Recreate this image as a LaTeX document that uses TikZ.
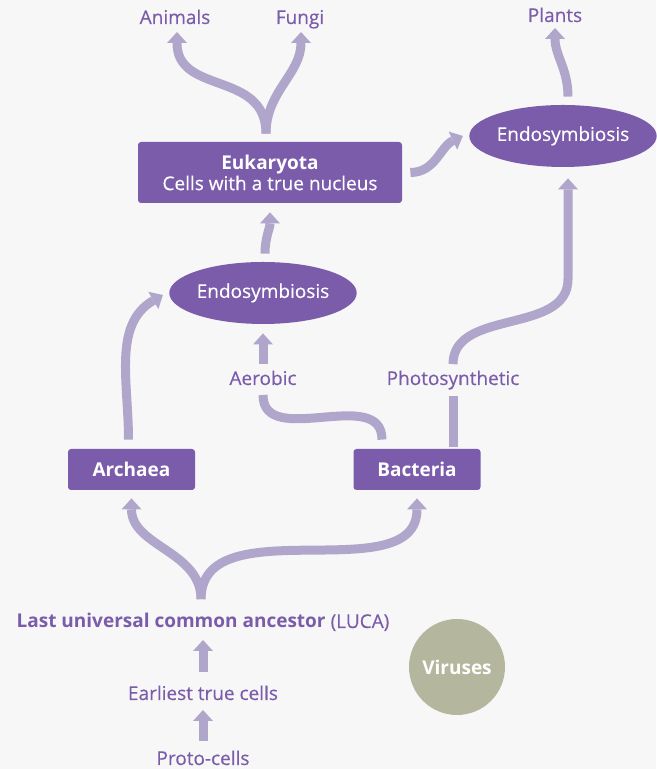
\documentclass[tikz,border=0pt]{standalone}
\usepackage{fontspec}
\setmainfont{Open Sans}[UprightFeatures={FakeBold=0.35}]
\usetikzlibrary{arrows.meta,shapes.geometric,positioning,calc}
\definecolor{purp}{HTML}{7B5CAA}
\definecolor{lilac}{HTML}{B0A6CC}
\definecolor{sage}{HTML}{B4B79E}
\definecolor{paper}{HTML}{F7F7F7}
\tikzset{
  txt/.style={text=purp, inner sep=0pt, anchor=base},
  box/.style={fill=purp, text=white, rounded corners=1.5pt, align=center, inner sep=0pt},
  blob/.style={ellipse, fill=purp, text=white, inner sep=0pt},
  flow/.style={draw=lilac, line width=4.5pt, -{Triangle[width=10pt,length=5.5pt,line width=0pt]}},
  plain/.style={draw=lilac, line width=4.5pt},
}
\begin{document}
\begin{tikzpicture}[x=0.5pt,y=0.5pt,font=\fontsize{9.5}{10.5}\selectfont]
\fill[paper] (0,0) rectangle (656,769);

\node[txt] (animals) at (175,745) {Animals};
\node[txt] (fungi) at (300,745) {Fungi};
\node[txt] (plants) at (555,747) {Plants};
\node[box, minimum width=132pt, minimum height=30.5pt] (euk) at (270,596.5) {\textbf{Eukaryota}\\Cells with a true nucleus};
\node[blob, minimum width=79pt, minimum height=31pt] (endo1) at (563,633) {Endosymbiosis};
\node[blob, minimum width=85pt, minimum height=31pt] (endo2) at (263,476) {Endosymbiosis};
\node[txt] (aerobic) at (263,384) {Aerobic};
\node[txt] (photo) at (453,384) {Photosynthetic};
\node[box, minimum width=63.5pt, minimum height=20.5pt] (arch) at (131.5,299.5) {\textbf{Archaea}};
\node[box, minimum width=63.5pt, minimum height=20.5pt] (bact) at (417,299.5) {\textbf{Bacteria}};
\node[txt] (luca) at (203,141) {\textbf{Last universal common ancestor} (LUCA)};
\node[txt] (early) at (203,69) {Earliest true cells};
\node[txt] (proto) at (203,4) {Proto-cells};
\node[circle, fill=sage, text=white, minimum size=48pt, inner sep=0pt] (vir) at (457,102) {\textbf{Viruses}};

\draw[flow] ([xshift=-2pt,yshift=4pt]euk.north) to[out=90,in=-90,looseness=1.2] ([xshift=1pt,yshift=-4pt]animals.base);
\draw[flow] ([xshift=-2pt,yshift=4pt]euk.north) to[out=90,in=-90] ([xshift=0.5pt,yshift=-4pt]fungi.base);
\draw[flow] ([xshift=4pt]euk.east) to[out=0,in=205] ([xshift=-3pt]endo1.west);
\draw[flow] ([xshift=2.5pt,yshift=4pt]endo1.north) to[out=90,in=-90] ([yshift=-3pt]plants.base);
\draw[plain] ($(bact.north -| photo.base)+(0,2)$) -- ([yshift=-3pt]photo.south);
\draw[flow] ([yshift=3pt]photo.north) to[out=90,in=-90] ++(115,85) -- ([xshift=2.5pt,yshift=-5.5pt]endo1.south);
\draw[plain] ([xshift=-17.5pt,yshift=4.5pt]bact.north) to[out=90,in=-90,looseness=1.1] ([yshift=-5pt]aerobic.base);
\draw[flow] ([yshift=3pt]aerobic.north) -- ([yshift=-4.5pt]endo2.south);
\draw[flow] ([xshift=1pt,yshift=4pt]endo2.north) to[out=90,in=-90] ([yshift=-4.5pt]euk.south);
\draw[flow] ([xshift=-1.5pt,yshift=4.5pt]arch.north) to[out=90,in=210] ([xshift=-3pt,yshift=-1pt]endo2.west);
\draw[flow] ([xshift=-1pt,yshift=7pt]luca.north) to[out=90,in=-90] ([yshift=-4pt]arch.south);
\draw[flow] ([xshift=-1pt,yshift=7pt]luca.north) to[out=90,in=-90] ([yshift=-4pt]bact.south);
\draw[flow] ([yshift=6.5pt]early.north) -- ([yshift=-6pt]luca.base);
\draw[flow] ([yshift=4.5pt]proto.north) -- ([yshift=-5pt]early.base);
\end{tikzpicture}
\end{document}
